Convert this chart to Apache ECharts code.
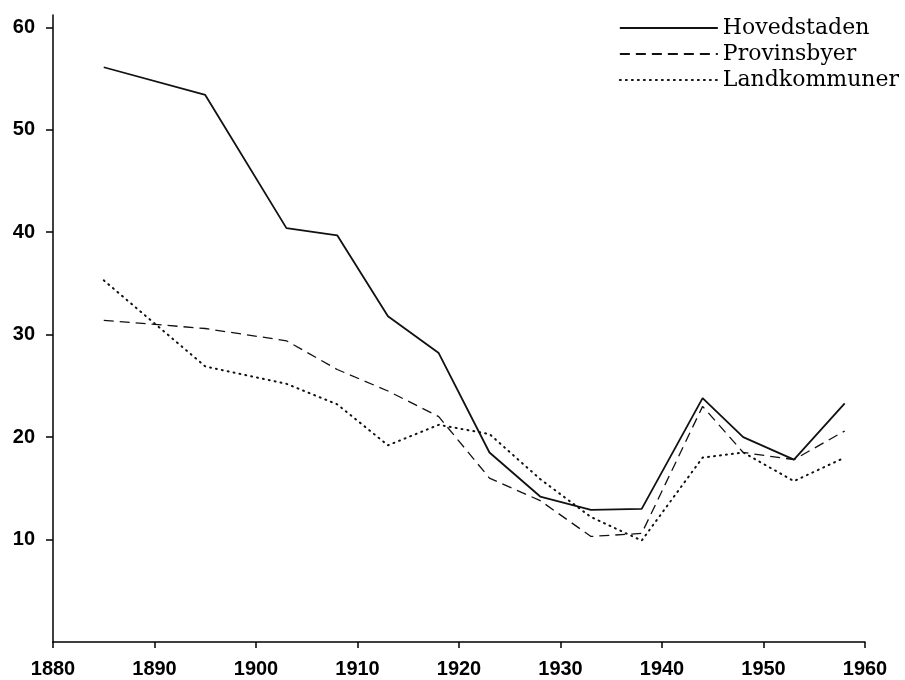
<!DOCTYPE html>
<html>
<head>
<meta charset="utf-8">
<script src="https://cdn.jsdelivr.net/npm/echarts@6/dist/echarts.min.js"></script>
<style>
  html, body { margin: 0; padding: 0; background: #fff; }
  #chart { width: 905px; height: 680px; }
</style>
</head>
<body>
<div id="chart"></div>
<script>
// år og værdier
const years = [1885, 1895, 1903, 1908, 1913, 1918, 1923, 1928, 1933, 1938, 1944, 1948, 1953, 1958]
const hovedstaden = [56.1, 53.4, 40.4, 39.7, 31.8, 28.2, 18.5, 14.2, 12.9, 13.0, 23.8, 20.0, 17.8, 23.3]
const provinsbyer = [31.4, 30.6, 29.4, 26.6, 24.5, 22.0, 16.0, 13.8, 10.3, 10.6, 23.0, 18.5, 17.8, 20.6]
const landkommuner = [35.3, 26.9, 25.2, 23.2, 19.2, 21.2, 20.3, 15.9, 12.2, 9.9, 18.0, 18.5, 15.7, 18.0]
const yTicks = [10, 20, 30, 40, 50, 60]

function pairs(values) {
  return years.map((y, i) => [y, values[i]])
}

const chart = echarts.init(document.getElementById('chart'))

const labelFont = {
  color: '#000',
  fontFamily: 'Liberation Sans, Arial, sans-serif',
  fontWeight: 'bold',
  fontSize: 20
}

chart.setOption({
  animation: false,
  backgroundColor: '#fff',
  grid: {
    left: 53,
    right: 40,
    top: 15,
    bottom: 38
  },
  legend: {
    orient: 'vertical',
    right: 1,
    top: 12,
    itemWidth: 98,
    itemHeight: 22,
    itemGap: 4,
    itemStyle: { opacity: 0 },
    textStyle: {
      color: '#000',
      fontFamily: 'DejaVu Serif, serif',
      fontSize: 22
    },
    data: ['Hovedstaden', 'Provinsbyer', 'Landkommuner']
  },
  xAxis: {
    type: 'value',
    min: 1880,
    max: 1960,
    interval: 10,
    splitLine: { show: false },
    axisLine: { onZero: false, lineStyle: { color: '#000', width: 1.5 } },
    axisTick: { show: true, length: 6, lineStyle: { color: '#000', width: 1.5 } },
    axisLabel: Object.assign({ margin: 17, formatter: v => String(v) }, labelFont)
  },
  yAxis: {
    type: 'value',
    min: 0,
    max: 61.2,
    splitLine: { show: false },
    axisLine: { show: true, onZero: false, lineStyle: { color: '#000', width: 1.5 } },
    axisTick: { show: true, length: 7, customValues: yTicks, lineStyle: { color: '#000', width: 1.5 } },
    axisLabel: Object.assign({ margin: 18, customValues: yTicks }, labelFont)
  },
  series: [
    {
      name: 'Hovedstaden',
      type: 'line',
      data: pairs(hovedstaden),
      symbol: 'none',
      lineStyle: { color: '#111', width: 1.8 }
    },
    {
      name: 'Provinsbyer',
      type: 'line',
      data: pairs(provinsbyer),
      symbol: 'none',
      lineStyle: { color: '#111', width: 1.3, type: [10, 6] }
    },
    {
      name: 'Landkommuner',
      type: 'line',
      data: pairs(landkommuner),
      symbol: 'none',
      lineStyle: { color: '#111', width: 2, type: [1, 5], cap: 'round' }
    }
  ]
})
</script>
</body>
</html>
